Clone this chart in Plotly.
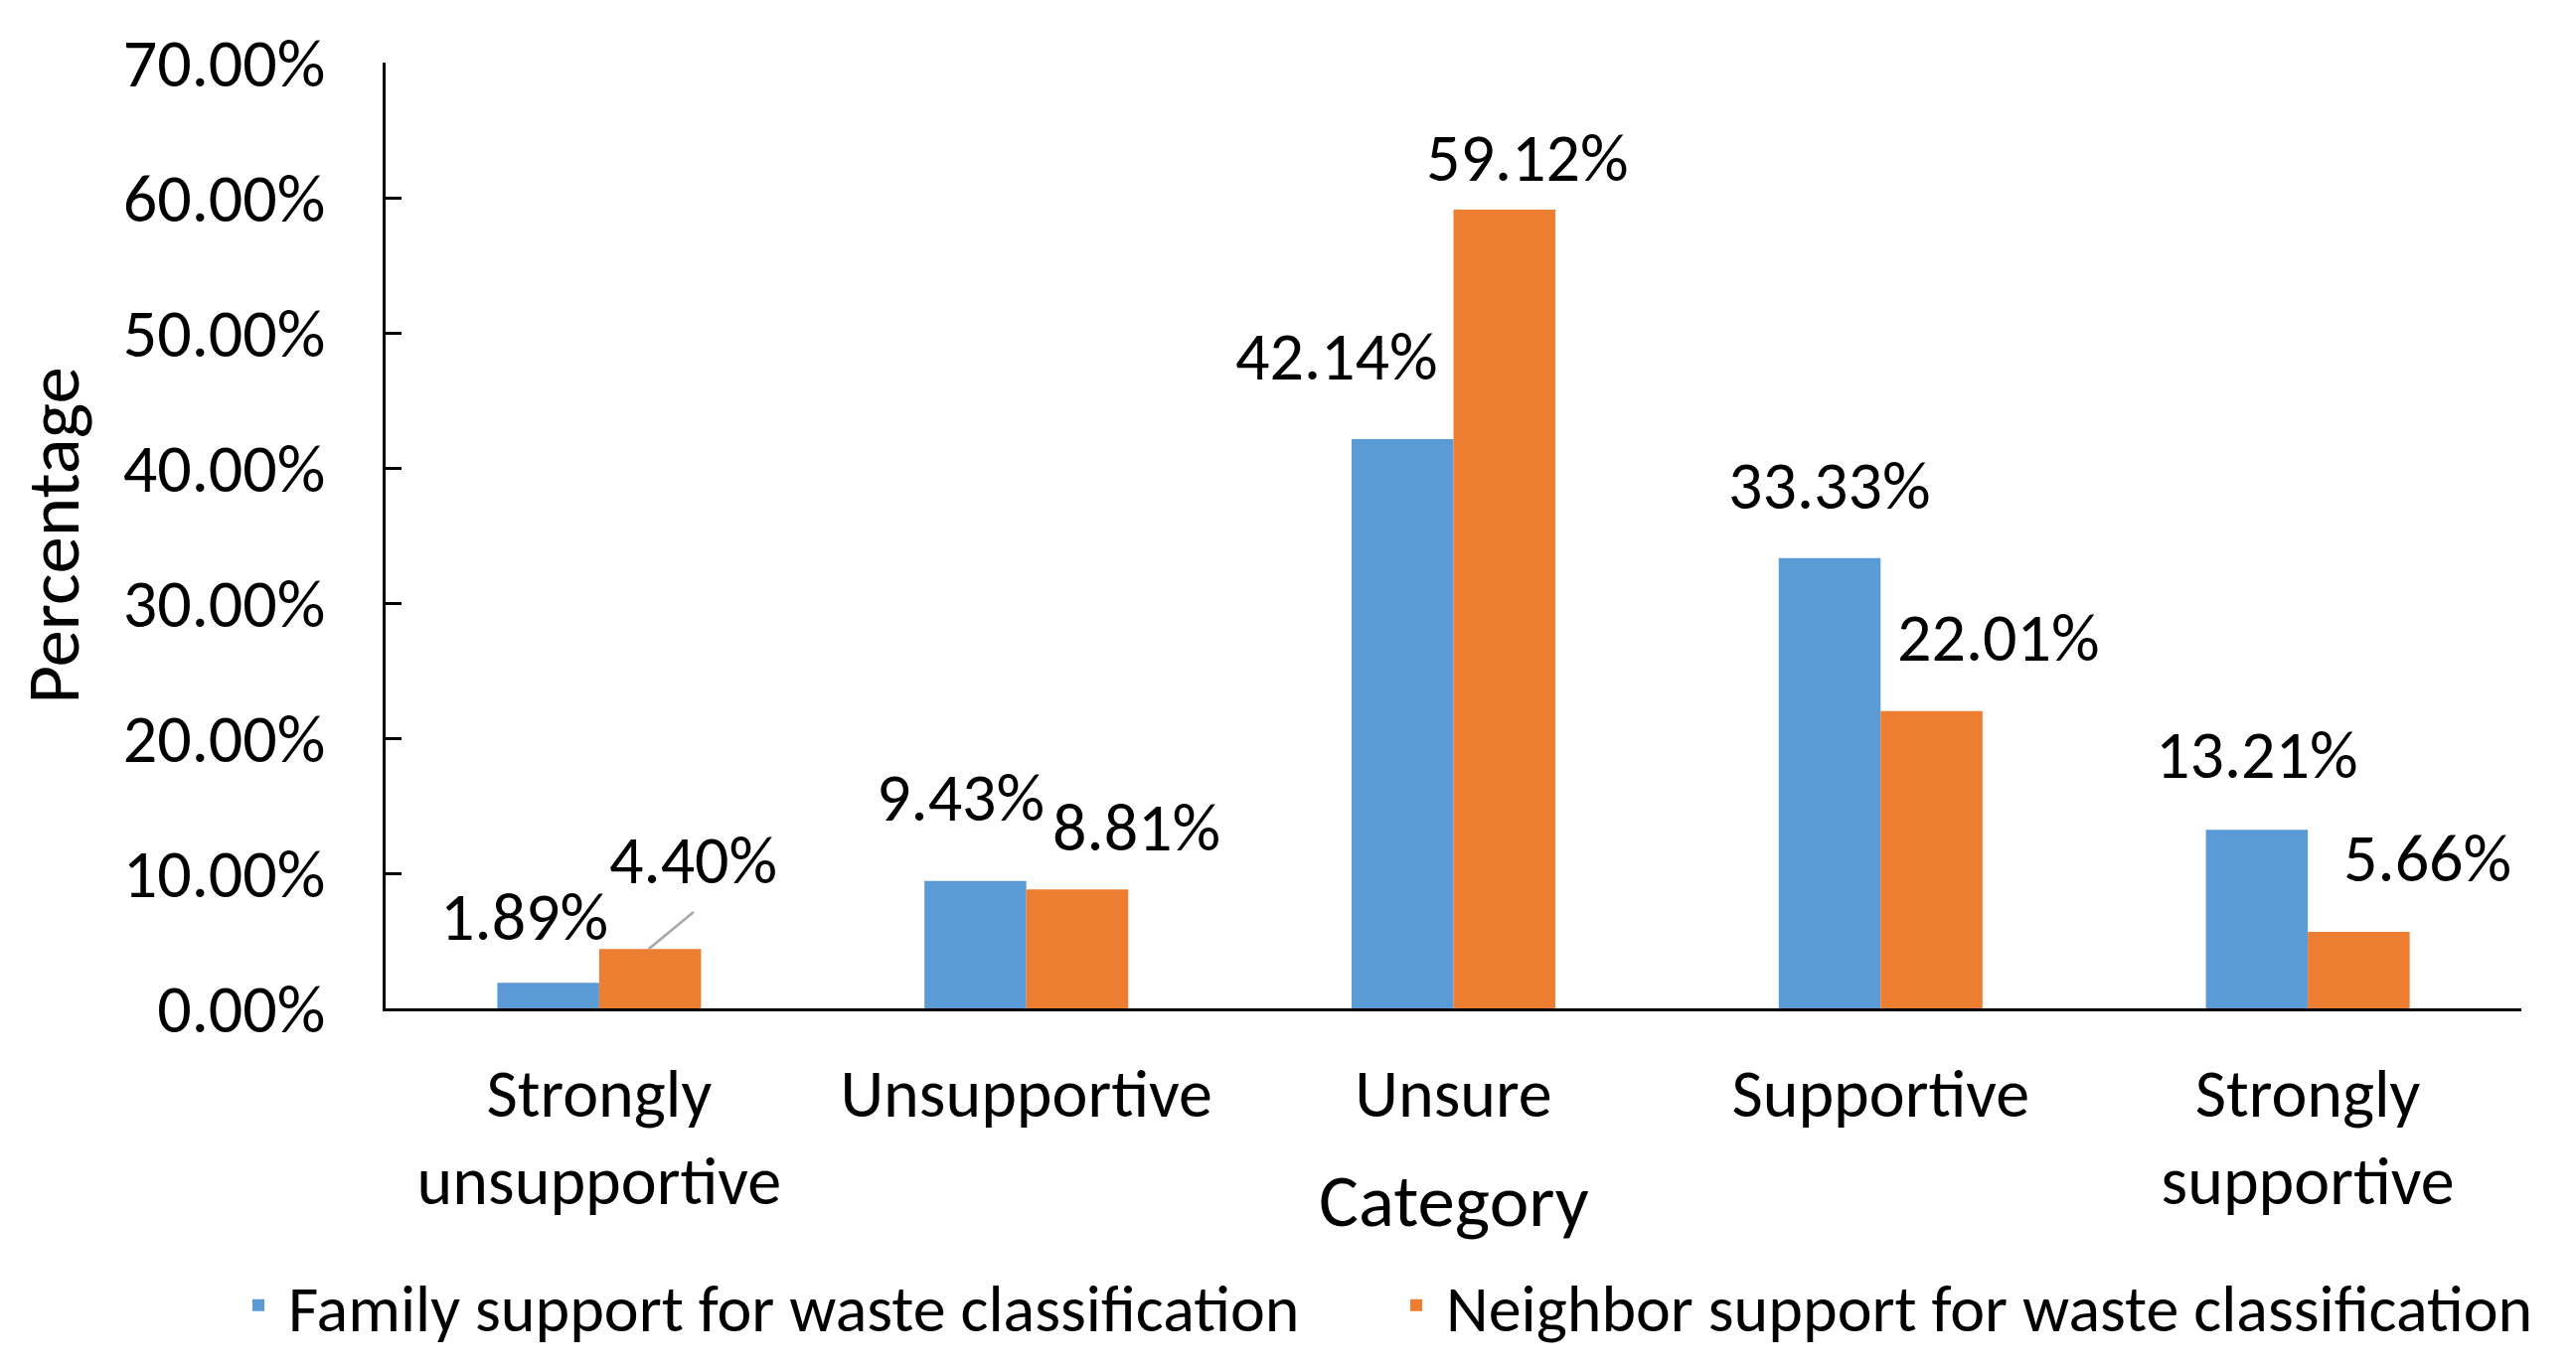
import plotly.graph_objects as go

categories = ["Strongly<br>unsupportive", "Unsupportive", "Unsure", "Supportive", "Strongly<br>supportive"]
family = [1.89, 9.43, 42.14, 33.33, 13.21]
neighbor = [4.40, 8.81, 59.12, 22.01, 5.66]
series_names = ["Family support for waste classification", "Neighbor support for waste classification"]
y_ticks = [0, 10, 20, 30, 40, 50, 60, 70]
y_tick_labels = [f"{v:.2f}%" for v in y_ticks]

BLUE = "#5B9BD5"
ORANGE = "#ED7D31"
FONT = "Calibri, Carlito, Lato, sans-serif"
FS = 68
FT = 75
FL = 66

# page body has an 8px margin, so the figure is drawn 8px in from the corner
W, H = 2576, 1361
L, R, T, B = 380, 47, 55, 354

fig = go.Figure()
fig.add_trace(go.Bar(x=categories, y=family, name=series_names[0], marker=dict(color=BLUE, line=dict(width=0))))
fig.add_trace(go.Bar(x=categories, y=neighbor, name=series_names[1], marker=dict(color=ORANGE, line=dict(width=0))))

# label placement tweaks (pixel x shift, y offset in axis units)
fam_dx = [-75, -66, -118, -51, -51]
fam_dy = [4.93, 6.17, 6.16, 5.37, 5.59]
nei_dx = [95, 111, 74, 119, 120]
nei_dy = [6.6, 4.59, 3.88, 5.49, 5.5]

for i, c in enumerate(categories):
    fig.add_annotation(x=c, y=family[i] + fam_dy[i], xref="x", yref="y", text=f"{family[i]:.2f}%",
                       showarrow=False, xshift=fam_dx[i], font=dict(family=FONT, size=FS, color="black"),
                       xanchor="center", yanchor="middle")
    fig.add_annotation(x=c, y=neighbor[i] + nei_dy[i], xref="x", yref="y", text=f"{neighbor[i]:.2f}%",
                       showarrow=False, xshift=nei_dx[i], font=dict(family=FONT, size=FS, color="black"),
                       xanchor="center", yanchor="middle")

# leader line for the first neighbor label
fig.add_shape(type="line", xref="x", yref="y", x0=0 + 0.116, y0=neighbor[0], x1=0 + 0.221, y1=neighbor[0] + 2.73,
              line=dict(color="#A6A6A6", width=2.5))

fig.add_annotation(x=0.5, y=-0.203, xref="paper", yref="paper", text="Category", showarrow=False,
                   font=dict(family=FONT, size=FT, color="black"), xanchor="center", yanchor="middle")

fig.update_layout(
    width=W, height=H,
    margin=dict(l=L, r=R, t=T, b=B, autoexpand=False),
    paper_bgcolor="white", plot_bgcolor="white",
    barmode="group", bargap=0.523, bargroupgap=0,
    font=dict(family=FONT, size=FS, color="black"),
    showlegend=True,
    legend=dict(orientation="h", x=-0.0735, y=-0.314, xanchor="left", yanchor="middle",
                font=dict(family=FONT, size=FL, color="black"), itemwidth=50, tracegroupgap=0,
                entrywidth=1100, entrywidthmode="pixels",
                bgcolor="rgba(0,0,0,0)"),
    xaxis=dict(showline=True, linecolor="black", linewidth=3, ticks="", showgrid=False,
               tickfont=dict(family=FONT, size=FS, color="black"), ticklabelstandoff=24,
               range=[-0.5, 4.5], automargin=False),
    yaxis=dict(showline=True, linecolor="black", linewidth=3, ticks="inside", ticklen=16, tickwidth=3,
               tickcolor="black", showgrid=False, range=[0, 70], tickmode="array",
               tickvals=y_ticks, ticktext=y_tick_labels, zeroline=False,
               tickfont=dict(family=FONT, size=FS, color="black"), ticklabelstandoff=44,
               title=dict(text="Percentage", font=dict(family=FONT, size=FT, color="black"), standoff=54),
               automargin=False),
)

fig.write_html("out.html")
